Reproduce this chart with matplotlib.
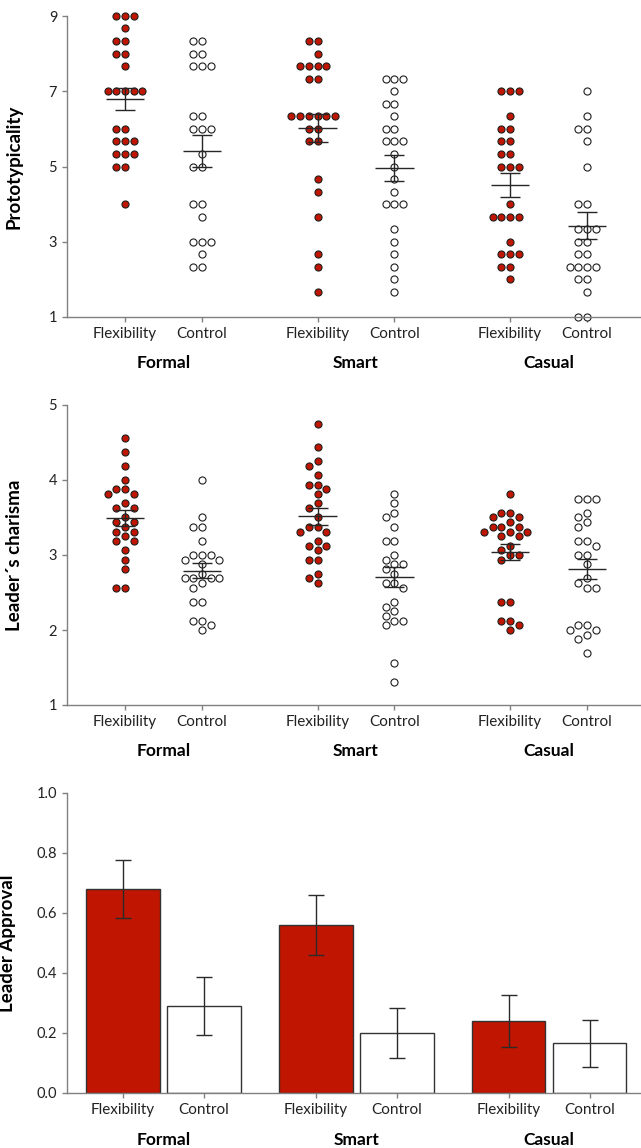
import numpy as np
import matplotlib
matplotlib.use("Agg")
import matplotlib.pyplot as plt

plt.rcParams['font.family'] = ['Lato', 'DejaVu Sans']

# categories
dress = ['Formal', 'Smart', 'Casual']
conditions = ['Flexibility', 'Control']

# prototypicality (one list per dress x condition)
proto = {
    ('Formal', 'Flexibility'): [9, 9, 9, 8.67, 8.33, 8.33, 8, 8, 7.67, 7, 7, 7, 7, 7,
                                6, 6, 5.67, 5.67, 5.67, 5.33, 5.33, 5.33, 5, 5, 4],
    ('Formal', 'Control'): [8.33, 8.33, 8, 8, 7.67, 7.67, 7.67, 6.33, 6.33, 6, 6, 6,
                            5.33, 5, 5, 4, 4, 3.67, 3, 3, 3, 2.67, 2.33, 2.33],
    ('Smart', 'Flexibility'): [8.33, 8.33, 8, 7.67, 7.67, 7.67, 7.67, 7.33, 7.33,
                               6.33, 6.33, 6.33, 6.33, 6.33, 6.33, 6, 6, 5.67, 5.67,
                               4.67, 4.33, 3.67, 2.67, 2.33, 1.67],
    ('Smart', 'Control'): [7.33, 7.33, 7.33, 7, 6.67, 6.67, 6.33, 6, 6, 5.67, 5.67, 5.67,
                           5.33, 5, 4.67, 4.33, 4, 4, 4, 3.33, 3, 2.67, 2.33, 2, 1.67],
    ('Casual', 'Flexibility'): [7, 7, 7, 6.33, 6, 6, 5.67, 5.67, 5.33, 5.33, 5, 5, 5, 4,
                                3.67, 3.67, 3.67, 3.67, 3, 2.67, 2.67, 2.67, 2.33, 2.33, 2],
    ('Casual', 'Control'): [7, 6.33, 6, 6, 5.67, 5, 4, 4, 3.33, 3.33, 3.33, 3, 3, 2.67,
                            2.67, 2.33, 2.33, 2.33, 2.33, 2, 2, 1.67, 1, 1],
}

# leader's charisma
charisma = {
    ('Formal', 'Flexibility'): [4.5625, 4.375, 4.1875, 4.0, 3.875, 3.875, 3.8125, 3.8125,
                                3.6875, 3.625, 3.625, 3.5, 3.4375, 3.4375, 3.375, 3.3125,
                                3.3125, 3.25, 3.1875, 3.1875, 3.0625, 2.9375, 2.8125,
                                2.5625, 2.5625],
    ('Formal', 'Control'): [4.0, 3.5, 3.375, 3.375, 3.1875, 3.0, 3.0, 3.0, 2.9375, 2.9375,
                            2.875, 2.75, 2.6875, 2.6875, 2.6875, 2.6875, 2.625, 2.5625,
                            2.375, 2.375, 2.125, 2.125, 2.0625, 2.0],
    ('Smart', 'Flexibility'): [4.75, 4.4375, 4.25, 4.1875, 4.0625, 3.9375, 3.9375, 3.875,
                               3.8125, 3.6875, 3.625, 3.5, 3.375, 3.375, 3.3125, 3.3125,
                               3.1875, 3.125, 3.125, 3.0625, 2.9375, 2.9375, 2.75, 2.6875,
                               2.625],
    ('Smart', 'Control'): [3.8125, 3.6875, 3.5625, 3.5, 3.375, 3.1875, 3.1875, 3.0, 2.9375,
                           2.875, 2.875, 2.8125, 2.75, 2.625, 2.625, 2.5625, 2.375, 2.3125,
                           2.25, 2.1875, 2.125, 2.125, 2.0625, 1.5625, 1.3125],
    ('Casual', 'Flexibility'): [3.8125, 3.5625, 3.5625, 3.5, 3.5, 3.4375, 3.375, 3.375,
                                3.375, 3.3125, 3.3125, 3.3125, 3.25, 3.25, 3.125, 3.0625,
                                3.0, 3.0, 2.9375, 2.375, 2.375, 2.125, 2.125, 2.0625, 2.0],
    ('Casual', 'Control'): [3.75, 3.75, 3.75, 3.5625, 3.5, 3.4375, 3.375, 3.1875, 3.1875,
                            3.125, 3.0, 3.0, 2.875, 2.6875, 2.625, 2.5625, 2.5625, 2.0625,
                            2.0625, 2.0, 2.0, 1.9375, 1.875, 1.6875],
}

# leader approval (proportion and standard error)
approval = [0.68, 0.29, 0.56, 0.20, 0.24, 0.166]
approval_se = [0.096, 0.096, 0.101, 0.082, 0.087, 0.078]

RED = '#C01500'
EDGE = '#1e1e1e'
AXC = '#808080'
W, H = 641, 1148

fig = plt.figure(figsize=(W / 100, H / 100), dpi=100)

pos_dot = [0, 1, 2.5, 3.5, 5, 6]
pos_bar = [0, 1, 2.38, 3.38, 4.76, 5.76]


def style_axis(ax):
    for s in ['top', 'right']:
        ax.spines[s].set_visible(False)
    for s in ['left', 'bottom']:
        ax.spines[s].set_color(AXC)
        ax.spines[s].set_linewidth(1.0)
    ax.tick_params(colors=AXC, length=3.6, width=1.0, labelcolor='#222222', pad=3.5)
    ax.tick_params(axis='x', labelsize=11)
    ax.tick_params(axis='y', labelsize=10.5)


def swarm(vals, ppu_x, ppu_y, step=4.35, diam=7.2):
    # simple beeswarm in pixel space, rows of equal values get centred
    vals = np.round(np.asarray(vals, float), 4)
    out = np.zeros(len(vals))
    placed = []
    cand = sorted(range(-30, 31), key=lambda k: (abs(k), k))
    for v in sorted(set(vals), reverse=True):
        idx = np.where(vals == v)[0]
        y = v * ppu_y
        row = []
        for _ in idx:
            for k in cand:
                x = k * step
                if all((x - px) ** 2 + (y - py) ** 2 >= diam ** 2 for px, py in placed + row):
                    row.append((x, y))
                    break
        xs = np.array([r[0] for r in row])
        m = xs.mean()
        for sh in np.arange(-np.round(m / step), 0, -np.sign(m / step) if m else 1):
            trial = xs + sh * step
            if all((x - px) ** 2 + (y - py) ** 2 >= diam ** 2
                   for x in trial for px, py in placed):
                xs = trial
                break
        for i, x in zip(idx, xs):
            out[i] = x / ppu_x
        placed += [(x, y) for x in xs]
    return out


def dot_panel(ax, data, ylim, yticks, ylabel, top_px, bot_px):
    ppu_x = 77.0
    ppu_y = (bot_px - top_px) / (ylim[1] - ylim[0])
    k = 0
    for d in dress:
        for c in conditions:
            vals = np.array(data[(d, c)], float)
            off = swarm(vals, ppu_x, ppu_y)
            fc = RED if c == 'Flexibility' else 'white'
            ax.scatter(pos_dot[k] + off, vals, s=26, facecolor=fc, edgecolor=EDGE,
                       linewidths=0.8, zorder=2, clip_on=False)
            m = vals.mean()
            se = vals.std(ddof=1) / np.sqrt(len(vals))
            ax.errorbar(pos_dot[k], m, yerr=se, fmt='none', ecolor='#262626',
                        elinewidth=1.0, capsize=7.2, capthick=1.0, zorder=3)
            ax.hlines(m, pos_dot[k] - 0.25, pos_dot[k] + 0.25, color='#262626',
                      lw=1.0, zorder=3)
            k += 1
    ax.set_xlim((67 - 125) / ppu_x, (W - 125) / ppu_x)
    ax.set_ylim(*ylim)
    ax.set_yticks(yticks)
    ax.set_xticks(pos_dot)
    ax.set_xticklabels(conditions * 3)
    style_axis(ax)
    ax.set_ylabel(ylabel, fontsize=13.5, fontweight='bold', color='black')
    ax.yaxis.set_label_coords((23 - 67) / (W - 67), 0.5)
    hpx = bot_px - top_px
    for i, d in enumerate(dress):
        ax.text((pos_dot[2 * i] + pos_dot[2 * i + 1]) / 2, -46 / hpx, d,
                transform=ax.get_xaxis_transform(), ha='center', va='center',
                fontsize=12.5, fontweight='bold')


def axes_px(top_px, bot_px, left_px=67):
    return fig.add_axes([left_px / W, 1 - bot_px / H, (W - left_px) / W,
                         (bot_px - top_px) / H])


ax1 = axes_px(16, 317)
dot_panel(ax1, proto, (1, 9), [1, 3, 5, 7, 9], 'Prototypicality', 16, 317)

ax2 = axes_px(405, 705)
dot_panel(ax2, charisma, (1, 5), [1, 2, 3, 4, 5], 'Leader\u00b4s charisma', 405, 705)

# bar panel
ax3 = axes_px(793, 1093)
ppu_b = 81.0
colors = [RED if i % 2 == 0 else 'white' for i in range(6)]
ax3.bar(pos_bar, approval, width=0.91, color=colors, edgecolor='#333333',
        linewidth=1.0, zorder=2)
ax3.errorbar(pos_bar, approval, yerr=approval_se, fmt='none', ecolor='#2a2a2a',
             elinewidth=1.0, capsize=6.1, capthick=1.0, zorder=3)
ax3.set_xlim((67 - 123) / ppu_b, (W - 123) / ppu_b)
ax3.set_ylim(0, 1.0)
ax3.set_yticks([0.0, 0.2, 0.4, 0.6, 0.8, 1.0])
ax3.set_yticklabels(['0.0', '0.2', '0.4', '0.6', '0.8', '1.0'])
ax3.set_xticks(pos_bar)
ax3.set_xticklabels(conditions * 3)
style_axis(ax3)
ax3.set_ylabel('Leader Approval', fontsize=13.5, fontweight='bold', color='black')
ax3.yaxis.set_label_coords((16 - 67) / (W - 67), 0.5)
for i, d in enumerate(dress):
    ax3.text((pos_bar[2 * i] + pos_bar[2 * i + 1]) / 2, -47 / 300, d,
             transform=ax3.get_xaxis_transform(), ha='center', va='center',
             fontsize=12.5, fontweight='bold')

fig.savefig('out.png', dpi=100)
